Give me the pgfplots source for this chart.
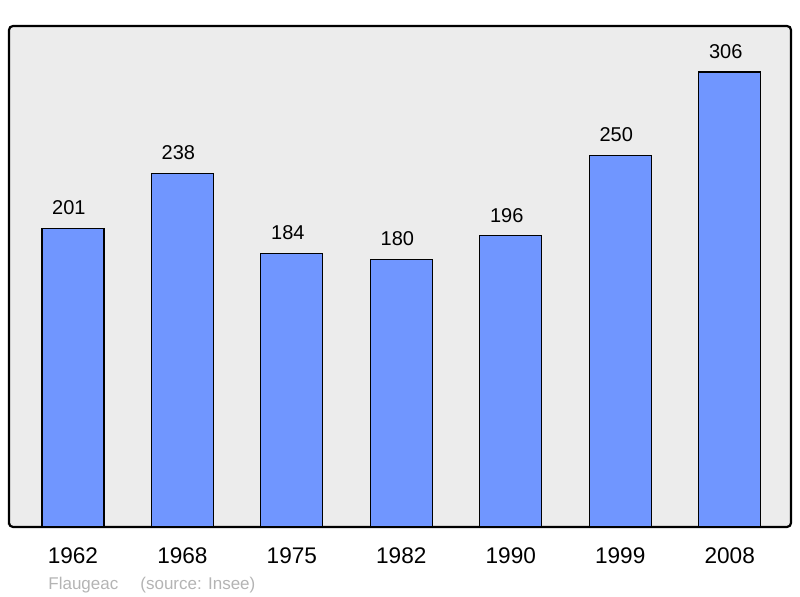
\documentclass[border=0pt]{standalone}
\usepackage{fontspec}
\setmainfont{Liberation Sans}
\usepackage{pgfplots}
\pgfplotsset{compat=1.18}
\definecolor{barblue}{HTML}{7096FF}
\definecolor{plotbg}{HTML}{ECECEC}
\definecolor{footgray}{HTML}{B4B4B4}

\begin{document}
\begin{tikzpicture}
  \path[use as bounding box] (-4.5pt,-35pt) rectangle (395.5pt,263.5pt);
  \begin{axis}[
    at={(0,0)}, anchor=south west,
    scale only axis,
    width=391pt, height=250.5pt,
    xmin=-0.584, xmax=6.56,
    ymin=0, ymax=337,
    axis background/.style={fill=plotbg},
    axis line style={line width=1.1pt, rounded corners=2pt},
    xtick=data,
    xticklabels={1962,1968,1975,1982,1990,1999,2008},
    ytick=\empty,
    major tick length=0pt,
    xticklabel style={font=\fontsize{11.3}{13}\selectfont, yshift=-7pt},
    /pgf/number format/assume math mode=true,
    ybar, bar width=0.566,
    nodes near coords,
    every node near coord/.append style={font=\fontsize{10}{12}\selectfont, yshift=3pt, xshift=-2pt},
  ]
    \addplot[fill=barblue, draw=black, line width=0.6pt] coordinates {
      (0,201) (1,238) (2,184) (3,180) (4,196) (5,250) (6,306)
    };
  \end{axis}
  \node[anchor=base west, text=footgray, font=\fontsize{8.5}{10}\selectfont, inner sep=0pt]
    at (19.5pt,-31.5pt) {Flaugeac\hspace{1.3em}(source: Insee)};
\end{tikzpicture}
\end{document}
